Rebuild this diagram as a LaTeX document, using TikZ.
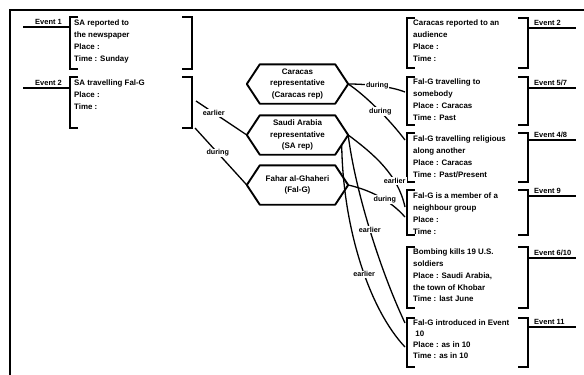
\documentclass[tikz,border=0pt]{standalone}
\usepackage{fontspec}
\setmainfont{Liberation Sans}
\usetikzlibrary{calc}

\tikzset{
  frameline/.style={line width=2pt},
  brk/.style={line width=1.9pt},
  link/.style={line width=1.3pt},
  evtext/.style={anchor=north west, inner sep=0pt, align=left,
    font=\fontsize{7.9}{12}\selectfont\bfseries},
  evlabel/.style={anchor=south west, inner sep=0pt,
    font=\fontsize{7.5}{9}\selectfont\bfseries},
  hexnode/.style={minimum width=101pt, minimum height=39pt, inner sep=0pt,
    align=center, font=\fontsize{8}{11.5}\selectfont\bfseries},
  hexline/.style={line width=1.9pt, line join=round},
  lbl/.style={fill=white, inner sep=1pt, font=\fontsize{7.2}{8}\selectfont\bfseries},
}

% hexagon outline around a node
\newcommand\hexoutline[1]{%
  \draw[hexline] (#1.west) -- ([xshift=13pt]#1.north west)
    -- ([xshift=-13pt]#1.north east) -- (#1.east)
    -- ([xshift=-13pt]#1.south east) -- ([xshift=13pt]#1.south west) -- cycle;}

% square brackets of an event box: left x, right x, top y, bottom y
\newcommand\evbrackets[4]{%
  \draw[brk] (#1,#3) ++(8,0) -- ++(-8,0) -- (#1,#4) -- ++(8,0);
  \draw[brk] (#2,#3) ++(-10,0) -- ++(10,0) -- (#2,#4) -- ++(-10,0);}

\begin{document}
\begin{tikzpicture}[x=1pt,y=-1pt]
\useasboundingbox (0,0) rectangle (584,375);

% outer frame
\draw[frameline] (10,375) -- (10,10) -- (584,10);

% left events
\evbrackets{70}{192}{17}{69}
\draw[brk] (23,27) -- (70,27);
\node[evlabel] (l1) at (35,25) {Event 1};
\node[evtext] (e1) at (74,20) {SA reported to\\the newspaper\\Place :\\Time : Sunday};

\evbrackets{70}{192}{77}{128}
\draw[brk] (23,88) -- (70,88);
\node[evlabel] (l2) at (35,86) {Event 2};
\node[evtext] (e2) at (74,80) {SA travelling Fal-G\\Place :\\Time :};

% right events
\evbrackets{407}{528}{18}{68}
\draw[brk] (528,28) -- (576,28);
\node[evlabel] (lr1) at (534,26) {Event 2};
\node[evtext] (r1) at (413,20) {Caracas reported to an\\audience\\Place :\\Time :};

\evbrackets{407}{528}{77}{125}
\draw[brk] (528,88) -- (576,88);
\node[evlabel] (lr2) at (534,86) {Event 5/7};
\node[evtext] (r2) at (413,79) {Fal-G travelling to\\somebody\\Place : Caracas\\Time : Past};

\evbrackets{407}{528}{133}{182}
\draw[brk] (528,140) -- (576,140);
\node[evlabel] (lr3) at (534,138) {Event 4/8};
\node[evtext] (r3) at (413,136) {Fal-G travelling religious\\along another\\Place : Caracas\\Time : Past/Present};

\evbrackets{407}{528}{190}{235}
\draw[brk] (528,196) -- (576,196);
\node[evlabel] (lr4) at (534,194) {Event 9};
\node[evtext] (r4) at (413,193) {Fal-G is a member of a\\neighbour group\\Place :\\Time :};

\evbrackets{407}{528}{247}{308}
\draw[brk] (528,258) -- (576,258);
\node[evlabel] (lr5) at (534,256) {Event 6/10};
\node[evtext, font=\fontsize{7.9}{11.7}\selectfont\bfseries] (r5) at (413,249)
  {Bombing kills 19 U.S.\\soldiers\\Place : Saudi Arabia,\\the town of Khobar\\Time : last June};

\evbrackets{407}{528}{318}{367}
\draw[brk] (528,327) -- (576,327);
\node[evlabel] (lr6) at (534,325) {Event 11};
\node[evtext, font=\fontsize{7.9}{11}\selectfont\bfseries] (r6) at (413,320)
  {Fal-G introduced in Event\\\ 10\\Place : as in 10\\Time : as in 10};

% actors
\node[hexnode] (h1) at (297.5,84) {Caracas\\representative\\(Caracas rep)};
\node[hexnode] (h2) at (297.5,135) {Saudi Arabia\\representative\\(SA rep)};
\node[hexnode] (h3) at (297.5,185) {Fahar al-Ghaheri\\(Fal-G)};
\hexoutline{h1}
\hexoutline{h2}
\hexoutline{h3}

% connector ends
\coordinate (e2a) at (196,101);
\coordinate (e2b) at (195,128);
\coordinate (h2lo) at ($(h2.east)!0.5!([xshift=-13pt]h2.south east)$);
\coordinate (r2in) at (405,92);
\coordinate (r3in) at (405,140);
\coordinate (r4a) at (405,207);
\coordinate (r4b) at (405,217);
\coordinate (r6a) at (405,323);
\coordinate (r6b) at (405,347);

% relations
\draw[link] (e2a) -- node[lbl,pos=0.35] {earlier} (h2.west);
\draw[link] (e2b) -- node[lbl,pos=0.44] {during} (h3.west);
\draw[link] (h1.east) .. controls (365,84) and (390,86) .. node[lbl,pos=0.5] {during} (r2in);
\draw[link] (h1.east) .. controls (365,95) and (390,120) .. node[lbl,pos=0.55] {during} (r3in);
\draw[link] (h2.east) .. controls (375,155) and (398,175) .. node[lbl,pos=0.7] {earlier} (r4a);
\draw[link] (h3.east) .. controls (370,190) and (390,200) .. node[lbl,pos=0.6] {during} (r4b);
\draw[link] (h2.east) .. controls (355,190) and (380,270) .. node[lbl,pos=0.5] {earlier} (r6a);
\draw[link] (h2lo) .. controls (343,230) and (370,310) .. node[lbl,pos=0.55] {earlier} (r6b);
\end{tikzpicture}
\end{document}
